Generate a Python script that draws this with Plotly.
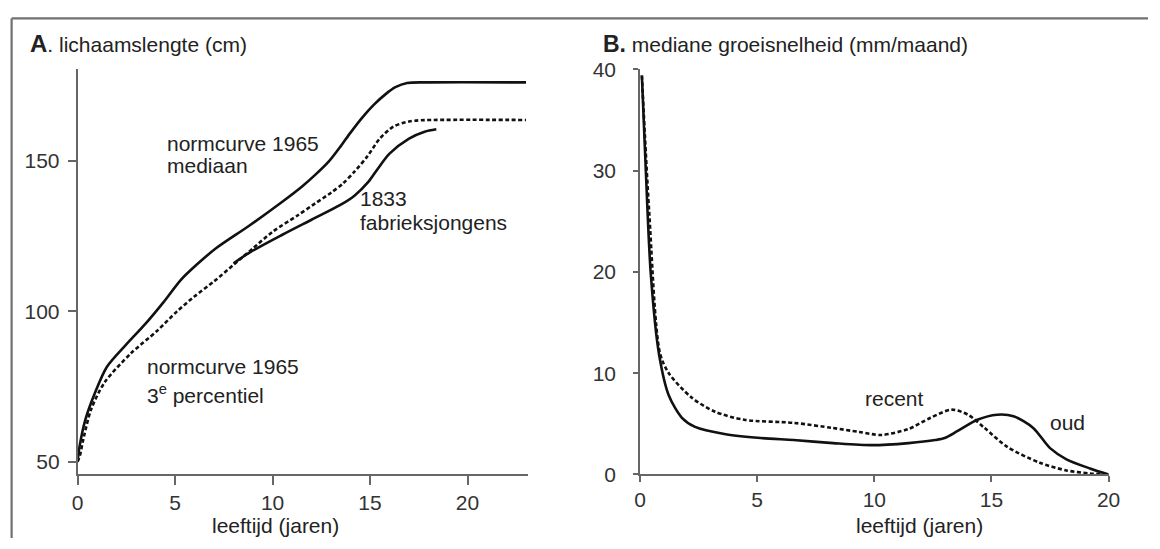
import plotly.graph_objects as go

# ---------- Panel A: lichaamslengte (cm) ----------
med_age = [0, 0.1, 0.4, 0.9, 1.5, 2.5, 3.5, 4.4, 5.3, 6.1, 7.1, 8.8, 10.5, 11.5, 12.2, 12.9, 13.5, 14.0, 14.6, 15.2, 15.8, 16.3, 16.9, 18, 23]
med_cm = [50, 55, 64, 73, 81.5, 89, 96, 103, 110.5, 115.5, 121, 128.5, 136.5, 141.5, 145.5, 150, 155, 159.5, 164.5, 168.8, 172.3, 174.6, 176, 176.2, 176.2]

p3_age = [0, 0.12, 0.28, 0.7, 1.38, 2.73, 4.07, 5.1, 6.0, 7.0, 8.0, 9.0, 10.0, 11.3, 12.2, 13.0, 13.6, 14.2, 14.85, 15.5, 16.2, 17.0, 17.6, 23]
p3_cm = [50, 52, 57, 67.5, 76.3, 86, 93.5, 100, 105, 110, 115.5, 121, 126.5, 132, 136, 139.5, 142.5, 146.5, 151.5, 157.5, 161.5, 163.2, 163.6, 163.7]

fab_age = [8.0, 8.8, 10.5, 12.0, 13.5, 14.2, 14.9, 15.4, 16.0, 17.0, 17.8, 18.4]
fab_cm = [116, 119.5, 125.5, 130.5, 135.5, 138.5, 143, 147.5, 152.5, 157.5, 159.8, 160.6]

# ---------- Panel B: mediane groeisnelheid (mm/maand) ----------
oud_age = [0.08, 0.25, 0.46, 0.81, 1.23, 1.79, 2.35, 3.6, 5.15, 6.55, 8.24, 9.9, 11.46, 12.6, 13.0, 13.56, 14.4, 15.24, 15.94, 16.78, 17.5, 18.2, 19.2, 20]
oud_v = [39.4, 29.9, 19.8, 11.9, 7.8, 5.6, 4.7, 4.0, 3.6, 3.4, 3.1, 2.9, 3.1, 3.4, 3.6, 4.3, 5.4, 5.9, 5.75, 4.6, 2.6, 1.5, 0.6, 0]

rec_age = [0.08, 0.39, 0.85, 1.23, 2.2, 3.2, 4.45, 6.55, 8.2, 9.36, 10.3, 11.46, 12.4, 13.3, 14.0, 14.7, 15.66, 17.06, 18.2, 19.2, 20]
rec_v = [39.4, 26, 12, 10.0, 7.6, 6.2, 5.4, 5.1, 4.6, 4.2, 3.9, 4.5, 5.6, 6.4, 5.9, 4.6, 2.75, 1.16, 0.4, 0.1, 0]

xticks_A = [0, 5, 10, 15, 20]
yticks_A = [50, 100, 150]
xticks_B = [0, 5, 10, 15, 20]
yticks_B = [0, 10, 20, 30, 40]

FONT = "Liberation Sans, Arial, sans-serif"
TXT = "#222222"
AX = "#666666"

fig = go.Figure()
solid = dict(color="#111111", width=2.6, shape="spline", smoothing=0.8)
dashed = dict(color="#111111", width=2.6, dash="4px,2.5px", shape="spline", smoothing=0.8)

fig.add_trace(go.Scatter(x=med_age, y=med_cm, mode="lines", line=solid, xaxis="x", yaxis="y"))
fig.add_trace(go.Scatter(x=p3_age, y=p3_cm, mode="lines", line=dashed, xaxis="x", yaxis="y"))
fig.add_trace(go.Scatter(x=fab_age, y=fab_cm, mode="lines", line=solid, xaxis="x", yaxis="y"))
fig.add_trace(go.Scatter(x=oud_age, y=oud_v, mode="lines", line=solid, xaxis="x2", yaxis="y2"))
fig.add_trace(go.Scatter(x=rec_age, y=rec_v, mode="lines", line=dashed, xaxis="x2", yaxis="y2"))

W, H = 1160, 549
ydom = [1 - 482.7 / H, 1 - 60 / H]

axis_common = dict(showgrid=False, zeroline=False, showline=True, linecolor=AX, linewidth=1.6,
                   ticks="outside", tickcolor=AX, tickwidth=1.6,
                   tickfont=dict(family=FONT, size=21, color="#333333"))

fig.update_layout(
    width=W, height=H,
    margin=dict(l=0, r=0, t=0, b=0),
    paper_bgcolor="white", plot_bgcolor="white",
    showlegend=False,
    xaxis=dict(domain=[72.7 / W, 529.8 / W], range=[0, 23.08], tickvals=xticks_A, ticklen=9,
               anchor="y", **axis_common),
    yaxis=dict(domain=ydom, range=[45.73, 180.5], tickvals=yticks_A, ticklen=8,
               ticklabelstandoff=4, anchor="x", **axis_common),
    xaxis2=dict(domain=[644 / W, 1120 / W], range=[0, 20], tickvals=xticks_B, ticklen=6,
                anchor="y2", **axis_common),
    yaxis2=dict(domain=ydom, range=[0, 40], tickvals=yticks_B, ticklen=5,
                ticklabelstandoff=13, anchor="x2", **axis_common),
)

def ann(text, x, y, xref, yref, xanchor="left", size=21):
    fig.add_annotation(text=text, x=x, y=y, xref=xref, yref=yref, xanchor=xanchor,
                       yanchor="middle", showarrow=False,
                       font=dict(family=FONT, size=size, color=TXT))

# titles
ann("<b><span style='font-size:24px'>A</span></b>. lichaamslengte (cm)", 22 / W, 1 - 33 / H, "paper", "paper")
ann("<b><span style='font-size:23px'>B.</span></b> mediane groeisnelheid (mm/maand)", 604 / W, 1 - 33 / H, "paper", "paper")
# axis titles
ann("leeftijd (jaren)", 273.5 / W, 1 - 536 / H, "paper", "paper", xanchor="center")
ann("leeftijd (jaren)", 928 / W, 1 - 536 / H, "paper", "paper", xanchor="center")

# in-plot labels (data coordinates)
ann("normcurve 1965", 4.5, 156.0, "x", "y")
ann("mediaan", 4.5, 148.6, "x", "y")
ann("1833", 14.4, 137.5, "x", "y")
ann("fabrieksjongens", 14.4, 129.5, "x", "y")
ann("normcurve 1965", 3.45, 81.7, "x", "y")
ann("3<sup>e</sup> percentiel", 3.45, 72.6, "x", "y")
ann("recent", 9.5, 7.5, "x2", "y2")
ann("oud", 17.4, 5.1, "x2", "y2")

# image frame (top and left edges)
fig.add_shape(type="line", xref="paper", yref="paper", x0=5.7 / W, x1=1.0, y0=1 - 6.7 / H, y1=1 - 6.7 / H,
              line=dict(color="#707070", width=2.2))
fig.add_shape(type="line", xref="paper", yref="paper", x0=5.7 / W, x1=5.7 / W, y0=0, y1=1 - 6.7 / H,
              line=dict(color="#707070", width=2.2))

fig.write_html("out.html", config={"displayModeBar": False},
               post_script="document.body.style.margin='0';document.body.style.overflow='hidden';")
